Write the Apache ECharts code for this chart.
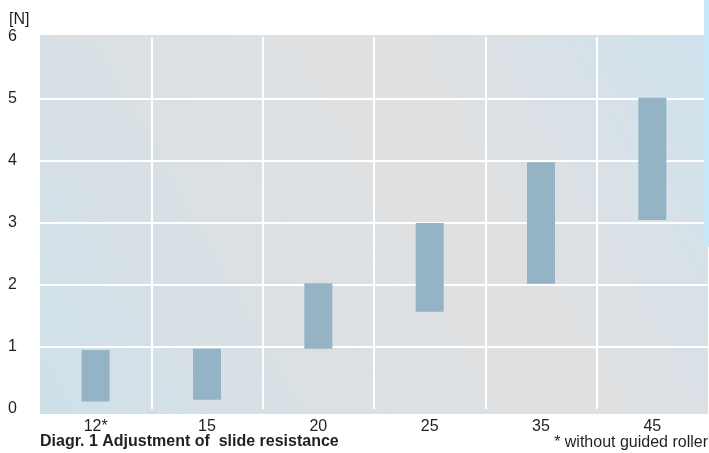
<!DOCTYPE html>
<html>
<head>
<meta charset="utf-8">
<script src="https://cdn.jsdelivr.net/npm/echarts@6/dist/echarts.min.js"></script>
<style>html,body{margin:0;padding:0;background:#fff}#c{width:709px;height:453px}</style>
</head>
<body>
<div id="c"></div>
<script>
const categories = ['12*', '15', '20', '25', '35', '45'];
const lows  = [0.12, 0.15, 0.97, 1.57, 2.02, 3.05];
const highs = [0.95, 0.97, 2.03, 3.00, 3.98, 5.02];
const yTicks = [0, 1, 2, 3, 4, 5, 6];

const chart = echarts.init(document.getElementById('c'), null, {renderer: 'canvas'});
const font = '"Liberation Sans", Arial, sans-serif';
chart.setOption({
  animation: false,
  backgroundColor: '#fff',
  grid: {left: 40, right: 1, top: 37, bottom: 44},
  graphic: [
    {type: 'rect', z: -10, shape: {x: 40, y: 35, width: 668, height: 379},
     style: {fill: new echarts.graphic.LinearGradient(0, 1, 1, 0, [
       {offset: 0, color: '#cfe0ea'},
       {offset: 0.4, color: '#dde0e3'},
       {offset: 0.65, color: '#dfe0e2'},
       {offset: 1, color: '#cfe2ec'}
     ])}},
    {type: 'rect', z: 10, shape: {x: 704, y: 0, width: 5, height: 247}, style: {fill: '#c6e7f7'}},
    {type: 'text', left: 9, top: 12, style: {text: '[N]', font: '16px ' + font, fill: '#231f20'}},
    {type: 'text', left: 40, top: 434, style: {text: 'Diagr. 1 Adjustment of  slide resistance', font: 'bold 16px ' + font, fill: '#231f20'}},
    {type: 'text', right: 1, top: 435, style: {text: '* without guided roller', font: '16px ' + font, fill: '#231f20'}}
  ],
  xAxis: {
    type: 'category', data: categories, boundaryGap: true,
    axisLine: {show: false}, axisTick: {show: false},
    axisLabel: {color: '#231f20', fontFamily: font, fontSize: 16, margin: 10},
    splitLine: {show: true, showMinLine: false, showMaxLine: false, lineStyle: {color: '#ffffff', width: 2}}
  },
  yAxis: {
    type: 'value', min: yTicks[0], max: yTicks[yTicks.length - 1], interval: 1,
    axisLine: {show: false}, axisTick: {show: false},
    axisLabel: {color: '#231f20', fontFamily: font, fontSize: 16, align: 'left', margin: 32},
    splitLine: {show: true, showMinLine: false, showMaxLine: false, lineStyle: {color: '#ffffff', width: 2}}
  },
  series: [{
    type: 'custom',
    data: categories.map((c, i) => [i, lows[i], highs[i]]),
    encode: {x: 0, y: [1, 2]},
    renderItem: function (params, api) {
      const lo = api.coord([api.value(0), api.value(1)]);
      const hi = api.coord([api.value(0), api.value(2)]);
      const w = 28;
      return {type: 'rect', shape: {x: lo[0] - w / 2, y: hi[1], width: w, height: lo[1] - hi[1]},
              style: {fill: '#94b4c5'}};
    }
  }]
});
</script>
</body>
</html>
